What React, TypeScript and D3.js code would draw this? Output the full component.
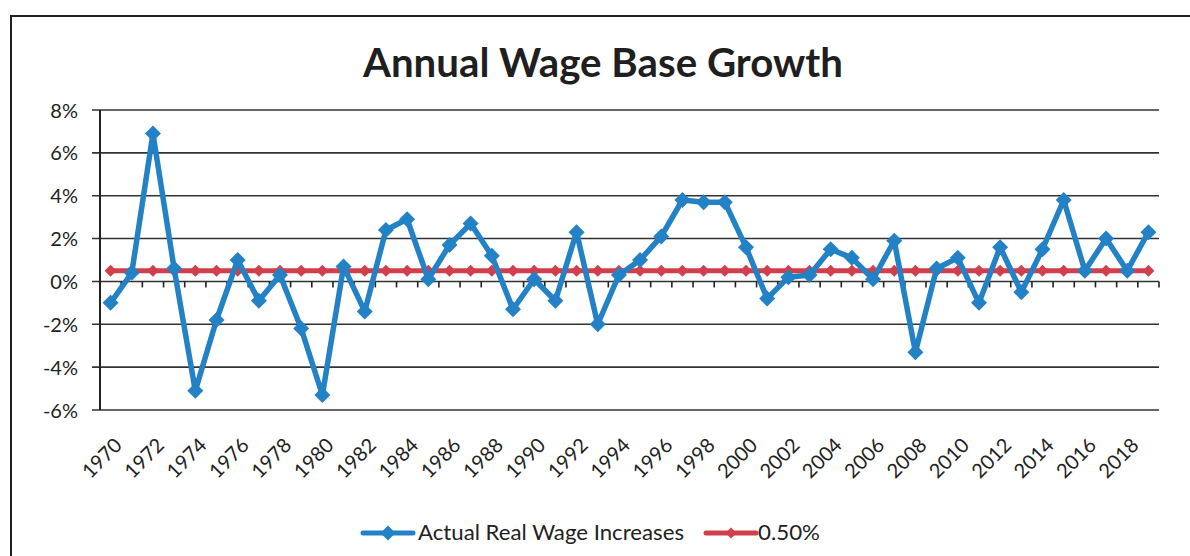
import React from "react";
import * as d3 from "d3";

const years: number[] = [
  1970, 1971, 1972, 1973, 1974, 1975, 1976, 1977, 1978, 1979,
  1980, 1981, 1982, 1983, 1984, 1985, 1986, 1987, 1988, 1989,
  1990, 1991, 1992, 1993, 1994, 1995, 1996, 1997, 1998, 1999,
  2000, 2001, 2002, 2003, 2004, 2005, 2006, 2007, 2008, 2009,
  2010, 2011, 2012, 2013, 2014, 2015, 2016, 2017, 2018, 2019,
];

const actualRealWage: number[] = [
  -1.0, 0.4, 6.9, 0.6, -5.1, -1.8, 1.0, -0.9, 0.3, -2.2,
  -5.3, 0.7, -1.4, 2.4, 2.9, 0.1, 1.7, 2.7, 1.2, -1.3,
  0.1, -0.9, 2.3, -2.0, 0.3, 1.0, 2.1, 3.8, 3.7, 3.7,
  1.6, -0.8, 0.2, 0.3, 1.5, 1.1, 0.1, 1.9, -3.3, 0.6,
  1.1, -1.0, 1.6, -0.5, 1.5, 3.8, 0.5, 2.0, 0.5, 2.3,
];

const assumption: number[] = years.map(() => 0.5);

const yTicks: number[] = [-6, -4, -2, 0, 2, 4, 6, 8];
const xLabelYears: number[] = years.filter((y) => (y - 1970) % 2 === 0);

const seriesNames = ["Actual Real Wage Increases", "0.50%"];

const BLUE = "#2381C6";
const RED = "#D03F4C";
const FONT = "Lato, 'Open Sans', sans-serif";

export default function App() {
  const W = 1190;
  const H = 556;
  const left = 100;
  const right = 1159;
  const top = 110;
  const bottom = 410;

  const x = d3
    .scaleBand<number>()
    .domain(years)
    .range([left, right])
    .padding(0);
  const cx = (yr: number) => (x(yr) as number) + x.bandwidth() / 2;
  const y = d3.scaleLinear().domain([-6, 8]).range([bottom, top]);

  const line = d3
    .line<number>()
    .x((_, i) => cx(years[i]))
    .y((d) => y(d));

  const diamond = (px: number, py: number, r: number) =>
    `M${px},${py - r}L${px + r},${py}L${px},${py + r}L${px - r},${py}Z`;

  const boundaries = years.map((yr) => x(yr) as number).concat([right]);

  return (
    <svg
      width={W}
      height={H}
      style={{ position: "absolute", left: 0, top: 0, background: "#fff" }}
    >
      <rect x={0} y={0} width={W} height={H} fill="#fff" />
      {/* outer chart border */}
      <path
        d={`M11,${H + 5}L11,16L${W + 5},16`}
        fill="none"
        stroke="#222"
        strokeWidth={2}
      />
      {/* title */}
      <text
        x={603}
        y={77}
        textAnchor="middle"
        fontFamily={FONT}
        fontWeight={700}
        fontSize={40}
        fill="#1f1f1f"
        textLength={480}
        lengthAdjust="spacingAndGlyphs"
      >
        Annual Wage Base Growth
      </text>

      {/* gridlines */}
      {yTicks.map((t) => (
        <line
          key={"g" + t}
          x1={left - 8}
          x2={right}
          y1={y(t)}
          y2={y(t)}
          stroke="#333"
          strokeWidth={1.6}
        />
      ))}
      {/* y axis line */}
      <line x1={left} x2={left} y1={top} y2={bottom} stroke="#222" strokeWidth={2} />
      {/* y tick labels */}
      {yTicks.map((t) => (
        <text
          key={"yl" + t}
          x={78}
          y={y(t) + 7.5}
          textAnchor="end"
          fontFamily={FONT}
          fontSize={20}
          fill="#222"
        >
          {`${t}%`}
        </text>
      ))}
      {/* x tick marks at 0% */}
      {boundaries.map((bx, i) => (
        <line
          key={"xt" + i}
          x1={bx}
          x2={bx}
          y1={y(0)}
          y2={y(0) + 6}
          stroke="#222"
          strokeWidth={1.6}
        />
      ))}
      {/* x labels */}
      {xLabelYears.map((yr) => {
        const px = cx(yr) + 2;
        const py = 436;
        return (
          <text
            key={"xl" + yr}
            transform={`translate(${px},${py}) rotate(-45)`}
            textAnchor="end"
            fontFamily={FONT}
            fontSize={20}
            fill="#222"
            dy="0.75em"
          >
            {String(yr)}
          </text>
        );
      })}

      {/* red series */}
      <path d={line(assumption) || ""} fill="none" stroke={RED} strokeWidth={5} />
      {assumption.map((v, i) => (
        <path key={"rm" + i} d={diamond(cx(years[i]), y(v), 6)} fill={RED} />
      ))}

      {/* blue series */}
      <path
        d={line(actualRealWage) || ""}
        fill="none"
        stroke={BLUE}
        strokeWidth={5.5}
        strokeLinejoin="round"
      />
      {actualRealWage.map((v, i) => (
        <path key={"bm" + i} d={diamond(cx(years[i]), y(v), 8)} fill={BLUE} />
      ))}

      {/* legend */}
      <g>
        <line x1={363} x2={413} y1={533} y2={533} stroke={BLUE} strokeWidth={5} strokeLinecap="round" />
        <path d={diamond(388, 533, 7.5)} fill={BLUE} />
        <text
          x={418}
          y={540}
          fontFamily={FONT}
          fontSize={21}
          fill="#222"
          textLength={266}
          lengthAdjust="spacingAndGlyphs"
        >
          {seriesNames[0]}
        </text>
        <line x1={706} x2={756} y1={533} y2={533} stroke={RED} strokeWidth={5} strokeLinecap="round" />
        <path d={diamond(731, 533, 5.5)} fill={RED} />
        <text
          x={758}
          y={540}
          fontFamily={FONT}
          fontSize={21}
          fill="#222"
          textLength={62}
          lengthAdjust="spacingAndGlyphs"
        >
          {seriesNames[1]}
        </text>
      </g>
    </svg>
  );
}
